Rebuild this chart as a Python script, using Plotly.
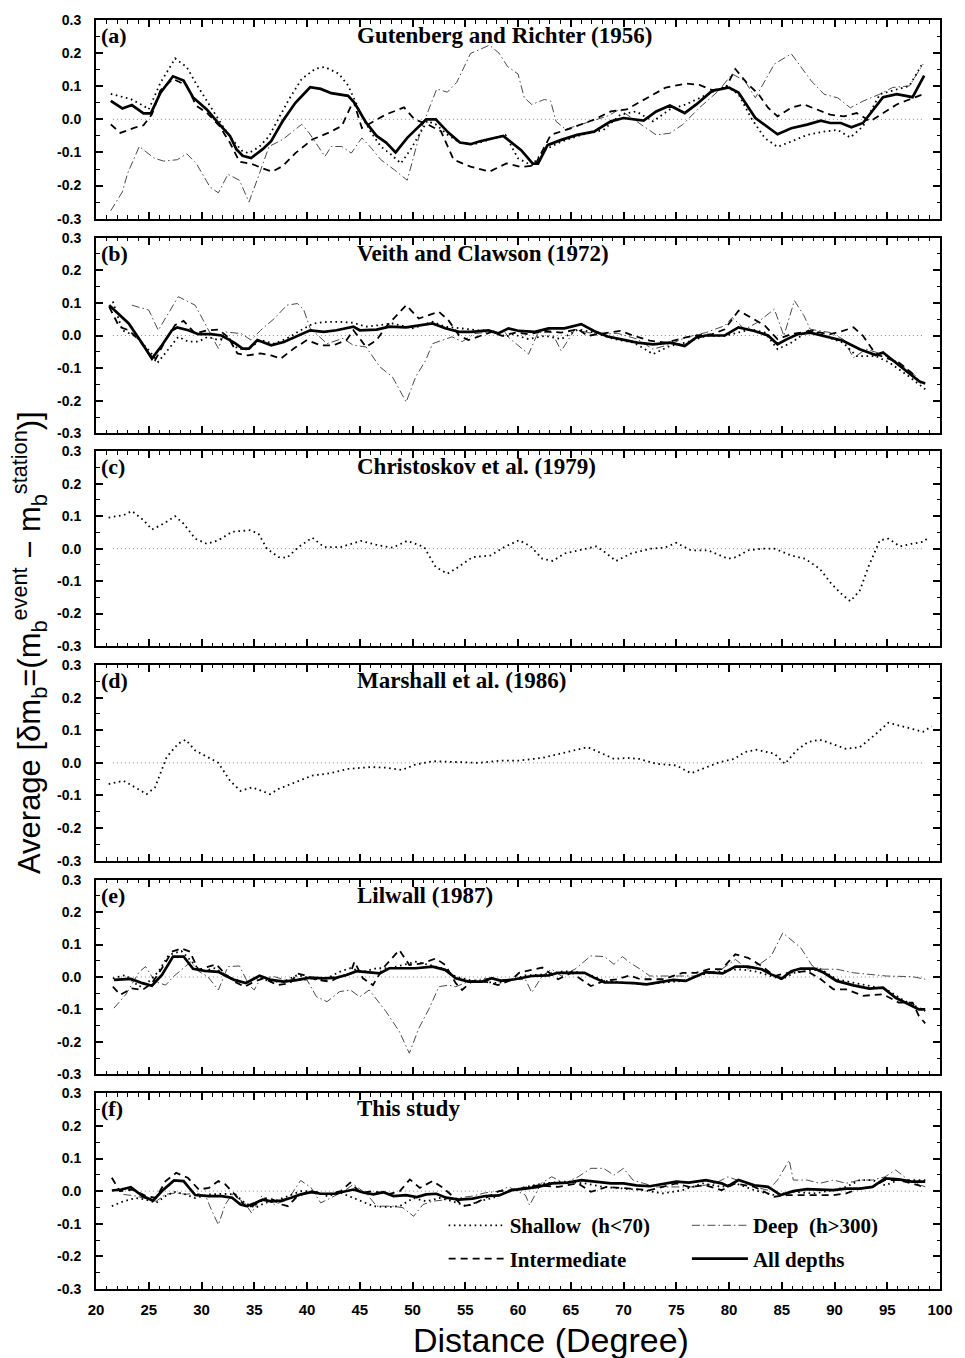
import plotly.graph_objects as go

# ---------------------------------------------------------------------------
# Average mb residual versus epicentral distance, (distance deg, residual)
# ---------------------------------------------------------------------------

# (a) Gutenberg and Richter (1956)
A_SHALLOW = [(21.4, 0.077), (23.3, 0.061), (24.5, 0.041), (25.0, 0.030), (26.1, 0.110),
             (27.5, 0.184), (28.6, 0.158), (29.5, 0.107), (30.8, 0.041), (32.0, -0.020),
             (32.9, -0.061), (33.9, -0.097), (34.5, -0.102), (35.5, -0.082), (36.4, -0.051),
             (37.3, 0.000), (38.3, 0.061), (39.5, 0.122), (40.8, 0.153), (41.7, 0.158),
             (43.0, 0.138), (43.9, 0.102), (44.5, 0.061), (45.2, 0.010), (46.1, -0.041),
             (47.0, -0.082), (48.0, -0.107), (48.9, -0.133), (49.8, -0.092), (50.8, -0.036),
             (51.4, -0.005), (52.2, -0.015), (53.3, -0.046), (54.5, -0.071), (55.8, -0.076),
             (57.3, -0.061), (58.8, -0.047), (60.0, -0.118), (61.3, -0.139), (62.5, -0.093),
             (64.1, -0.067), (66.0, -0.047), (68.1, -0.032), (69.7, 0.014), (71.2, 0.024),
             (72.8, -0.006), (74.4, 0.030), (75.9, 0.045), (77.2, 0.065), (78.4, 0.081),
             (79.7, 0.101), (80.9, 0.076), (82.1, 0.004), (83.4, -0.057), (84.6, -0.083),
             (85.9, -0.067), (87.4, -0.047), (89.0, -0.037), (90.3, -0.032), (91.5, -0.055),
             (92.7, -0.021), (94.3, 0.076), (95.9, 0.091), (97.1, 0.101), (98.4, 0.172)]
A_INTER = [(21.4, -0.015), (22.3, -0.041), (23.6, -0.026), (24.5, -0.018), (25.3, 0.015),
           (26.1, 0.087), (27.3, 0.122), (28.6, 0.102), (29.5, 0.041), (30.5, 0.020),
           (31.7, -0.020), (32.7, -0.071), (33.6, -0.128), (34.8, -0.135), (35.8, -0.148),
           (36.7, -0.158), (37.7, -0.141), (38.9, -0.102), (40.5, -0.061), (42.0, -0.041),
           (43.3, -0.020), (43.9, 0.020), (44.4, 0.056), (45.2, -0.026), (46.6, 0.000),
           (47.5, 0.015), (49.2, 0.036), (50.2, 0.000), (51.4, -0.015), (52.7, -0.036),
           (53.9, -0.122), (55.5, -0.143), (57.3, -0.158), (58.9, -0.133), (60.3, -0.144),
           (61.6, -0.139), (63.1, -0.047), (65.0, -0.027), (67.2, -0.001), (68.8, 0.024),
           (70.3, 0.030), (72.2, 0.065), (74.0, 0.096), (75.9, 0.108), (77.2, 0.104),
           (78.4, 0.088), (79.7, 0.096), (80.6, 0.152), (81.8, 0.106), (82.8, 0.076),
           (83.7, 0.035), (84.6, 0.009), (85.9, 0.035), (87.1, 0.045), (88.4, 0.030),
           (89.6, 0.014), (90.9, 0.009), (92.1, 0.019), (93.4, -0.006), (94.6, 0.019),
           (95.9, 0.045), (97.1, 0.060), (98.4, 0.076)]
A_DEEP = [(21.4, -0.276), (22.5, -0.219), (23.0, -0.163), (24.1, -0.082), (25.5, -0.117),
          (26.4, -0.126), (27.7, -0.122), (28.6, -0.104), (29.5, -0.133), (30.8, -0.204),
          (31.6, -0.222), (32.5, -0.166), (33.6, -0.184), (34.5, -0.250), (35.5, -0.163),
          (36.4, -0.082), (37.7, -0.061), (39.5, -0.015), (40.2, -0.041), (41.7, -0.112),
          (42.3, -0.082), (43.3, -0.082), (44.2, -0.102), (45.2, -0.056), (46.1, -0.087),
          (47.0, -0.122), (48.3, -0.153), (49.5, -0.184), (50.8, -0.031), (51.4, 0.020),
          (52.3, 0.092), (53.3, 0.082), (54.2, 0.112), (55.5, 0.199), (57.3, 0.224),
          (58.2, 0.200), (59.0, 0.160), (60.0, 0.137), (60.6, 0.065), (61.3, 0.045),
          (62.5, 0.060), (63.1, 0.055), (63.6, -0.006), (64.5, -0.030), (66.5, -0.010),
          (68.5, 0.010), (69.6, 0.030), (72.2, -0.027), (73.1, -0.047), (74.4, -0.042),
          (75.6, -0.016), (77.2, 0.035), (79.0, 0.086), (80.3, 0.137), (81.5, 0.116),
          (82.5, 0.065), (84.3, 0.167), (85.9, 0.198), (87.8, 0.116), (89.0, 0.076),
          (90.3, 0.065), (91.5, 0.035), (92.7, 0.055), (94.3, 0.076), (95.5, 0.096),
          (97.1, 0.101), (98.4, 0.167)]
A_ALL = [(21.4, 0.056), (22.5, 0.033), (23.4, 0.043), (24.5, 0.018), (25.2, 0.018),
         (26.1, 0.080), (27.3, 0.130), (28.3, 0.117), (29.2, 0.066), (30.5, 0.030),
         (31.7, -0.015), (32.7, -0.050), (33.3, -0.090), (33.9, -0.110), (34.7, -0.117),
         (35.8, -0.090), (36.6, -0.066), (37.7, -0.005), (38.9, 0.050), (40.3, 0.097),
         (41.3, 0.092), (42.3, 0.079), (43.9, 0.071), (44.5, 0.050), (45.6, -0.010),
         (46.6, -0.050), (47.5, -0.070), (48.4, -0.100), (49.5, -0.056), (50.5, -0.025),
         (51.3, 0.000), (52.2, 0.000), (53.4, -0.040), (54.5, -0.070), (55.5, -0.075),
         (56.4, -0.066), (57.3, -0.060), (58.6, -0.050), (60.3, -0.093), (61.4, -0.134),
         (61.9, -0.134), (62.8, -0.078), (64.1, -0.062), (65.6, -0.047), (67.2, -0.037),
         (68.8, -0.006), (70.0, 0.004), (71.9, -0.004), (73.1, 0.024), (74.4, 0.042),
         (75.8, 0.019), (76.9, 0.045), (78.4, 0.086), (80.0, 0.096), (80.9, 0.081),
         (82.5, 0.004), (84.6, -0.045), (85.9, -0.027), (87.4, -0.016), (88.7, -0.004),
         (89.6, -0.011), (90.6, -0.011), (91.6, -0.024), (92.7, -0.011), (94.6, 0.067),
         (95.9, 0.076), (97.4, 0.067), (98.5, 0.132)]

# (b) Veith and Clawson (1972)
B_SHALLOW = [(21.6, 0.104), (22.5, 0.016), (23.75, -0.002), (25.0, -0.045), (25.9, -0.081),
             (26.9, -0.040), (27.8, -0.004), (28.75, -0.019), (29.7, -0.019), (30.6, -0.004),
             (31.6, -0.014), (32.5, -0.004), (33.4, -0.040), (34.4, -0.043), (35.6, -0.014),
             (36.9, -0.025), (38.1, -0.009), (39.4, 0.016), (40.6, 0.037), (41.9, 0.042),
             (43.1, 0.042), (44.4, 0.039), (45.6, 0.027), (46.9, 0.032), (48.1, 0.037),
             (50.0, 0.022), (51.9, 0.042), (53.1, 0.027), (54.4, 0.022), (56.25, 0.016),
             (57.5, 0.016), (58.75, -0.004), (59.5, 0.004), (61.0, -0.011), (62.6, -0.001),
             (64.1, -0.011), (65.7, 0.019), (67.2, 0.009), (69.1, -0.011), (71.0, -0.022),
             (72.8, -0.057), (74.4, -0.032), (75.9, -0.022), (77.8, -0.001), (79.6, -0.001),
             (82.1, 0.019), (83.4, 0.009), (84.6, -0.042), (85.9, -0.022), (87.7, 0.019),
             (89.0, -0.001), (90.8, -0.022), (92.1, -0.063), (93.9, -0.063), (95.2, -0.083),
             (97.0, -0.124), (98.6, -0.165)]
B_INTER = [(21.25, 0.088), (22.2, 0.027), (23.1, 0.016), (24.1, -0.014), (25.0, -0.055),
           (25.6, -0.076), (26.6, -0.014), (27.5, 0.032), (28.3, 0.045), (29.4, 0.006),
           (30.6, 0.016), (31.6, 0.018), (32.5, -0.004), (33.4, -0.055), (34.4, -0.061),
           (35.6, -0.055), (36.6, -0.061), (37.5, -0.071), (38.75, -0.040), (40.0, -0.014),
           (41.25, -0.030), (42.5, -0.030), (43.75, -0.014), (44.4, 0.016), (45.6, -0.035),
           (46.6, -0.014), (47.5, 0.027), (49.4, 0.093), (50.6, 0.052), (52.5, 0.073),
           (53.4, 0.047), (54.4, 0.001), (55.3, -0.014), (56.25, -0.004), (57.5, 0.011),
           (58.5, -0.001), (59.8, 0.009), (61.0, 0.004), (62.6, 0.014), (64.1, 0.009),
           (65.7, 0.019), (66.6, -0.001), (68.5, 0.009), (69.7, 0.014), (71.0, -0.001),
           (72.5, -0.016), (74.0, -0.022), (75.9, -0.006), (77.2, 0.001), (78.4, 0.004),
           (79.6, 0.019), (80.9, 0.076), (82.1, 0.055), (83.4, 0.030), (84.6, -0.011),
           (85.9, 0.004), (87.7, 0.014), (89.6, 0.004), (90.8, 0.014), (91.8, 0.025),
           (92.7, -0.001), (93.9, -0.057), (96.1, -0.083), (97.3, -0.114), (98.3, -0.150)]
B_DEEP = [(23.4, 0.093), (25.0, 0.078), (25.9, 0.016), (26.9, 0.068), (27.8, 0.119),
          (29.4, 0.093), (30.6, 0.022), (31.6, -0.040), (32.2, 0.011), (33.75, 0.006),
          (34.7, -0.014), (35.6, 0.016), (36.9, 0.052), (38.1, 0.093), (39.1, 0.098),
          (39.7, 0.078), (40.3, 0.022), (41.9, -0.025), (43.4, -0.009), (44.4, -0.030),
          (45.6, -0.035), (46.9, -0.096), (48.1, -0.127), (49.4, -0.204), (50.3, -0.127),
          (51.25, -0.076), (51.9, -0.025), (53.75, -0.004), (54.7, -0.019), (55.9, 0.006),
          (57.5, 0.011), (58.75, 0.011), (59.1, -0.006), (61.0, -0.057), (61.9, 0.009),
          (63.2, 0.009), (64.1, -0.047), (65.4, 0.019), (66.6, 0.009), (68.1, 0.004),
          (69.4, 0.007), (71.3, -0.011), (72.8, -0.042), (74.4, -0.027), (75.9, -0.006),
          (77.8, 0.009), (79.6, 0.030), (80.3, 0.055), (81.5, 0.019), (82.7, 0.040),
          (84.3, 0.081), (85.2, -0.001), (86.2, 0.107), (87.1, 0.061), (87.7, 0.019),
          (89.6, 0.009), (90.8, -0.011), (91.8, -0.068), (93.0, -0.042), (94.5, -0.057),
          (96.1, -0.083), (97.7, -0.124)]
B_ALL = [(21.25, 0.093), (22.5, 0.057), (23.1, 0.037), (24.4, -0.025), (25.3, -0.071),
         (26.25, -0.030), (27.2, 0.016), (27.7, 0.025), (28.75, 0.016), (29.7, 0.004),
         (30.9, 0.004), (31.9, 0.000), (33.1, -0.022), (33.9, -0.040), (34.5, -0.040),
         (35.3, -0.014), (36.6, -0.030), (37.8, -0.020), (39.1, 0.000), (40.3, 0.016),
         (41.6, 0.011), (42.8, 0.016), (44.4, 0.027), (45.0, 0.016), (46.6, 0.018),
         (47.8, 0.027), (49.4, 0.025), (50.6, 0.030), (51.9, 0.037), (53.1, 0.022),
         (54.4, 0.011), (55.6, 0.011), (57.2, 0.016), (58.1, 0.006), (59.1, 0.022),
         (60.1, 0.014), (61.6, 0.011), (62.9, 0.022), (64.4, 0.022), (66.0, 0.035),
         (67.2, 0.014), (68.5, -0.003), (69.7, -0.011), (71.3, -0.022), (72.8, -0.027),
         (74.4, -0.022), (75.8, -0.032), (76.9, -0.006), (77.8, 0.000), (79.6, 0.000),
         (80.9, 0.025), (82.4, 0.014), (83.7, 0.000), (84.6, -0.027), (85.5, -0.011),
         (86.5, 0.004), (87.7, 0.009), (89.0, -0.001), (90.8, -0.016), (92.4, -0.042),
         (93.9, -0.060), (94.6, -0.052), (95.8, -0.083), (97.0, -0.114), (98.0, -0.140),
         (98.6, -0.147)]

# (c) Christoskov et al. (1979)
C_SHALLOW = [(21.2, 0.096), (22.6, 0.103), (23.4, 0.116), (24.5, 0.088), (25.3, 0.059),
             (26.4, 0.077), (27.5, 0.100), (28.3, 0.077), (29.4, 0.031), (30.5, 0.015),
             (31.6, 0.026), (32.9, 0.052), (34.6, 0.057), (35.4, 0.046), (36.2, 0.000),
             (37.3, -0.026), (38.1, -0.028), (39.2, 0.005), (40.5, 0.034), (41.6, 0.005),
             (43.2, 0.005), (45.1, 0.024), (46.8, 0.010), (48.1, 0.003), (49.5, 0.024),
             (51.1, 0.005), (52.2, -0.057), (53.3, -0.077), (54.1, -0.062), (55.7, -0.026),
             (57.4, -0.021), (58.7, 0.005), (60.1, 0.026), (61.2, 0.007), (62.3, -0.031),
             (63.3, -0.038), (64.4, -0.015), (66.1, -0.003), (67.4, 0.007), (68.2, -0.010),
             (69.3, -0.038), (70.7, -0.015), (72.6, 0.000), (73.9, 0.003), (75.0, 0.018),
             (76.4, -0.005), (78.0, -0.005), (79.9, -0.031), (80.7, -0.026), (81.8, -0.005),
             (83.2, 0.000), (84.3, 0.000), (85.9, -0.021), (87.2, -0.031), (88.6, -0.062),
             (89.7, -0.108), (90.8, -0.144), (91.5, -0.162), (92.4, -0.129), (93.2, -0.057),
             (94.3, 0.026), (95.1, 0.031), (96.2, 0.007), (97.3, 0.015), (98.4, 0.021),
             (98.9, 0.034)]

# (d) Marshall et al. (1986)
D_SHALLOW = [(21.2, -0.065), (22.6, -0.055), (23.7, -0.075), (24.8, -0.096), (25.6, -0.075),
             (26.7, 0.018), (27.8, 0.059), (28.5, 0.071), (29.4, 0.038), (30.5, 0.018),
             (31.6, 0.000), (32.7, -0.055), (33.7, -0.086), (34.8, -0.075), (36.5, -0.096),
             (37.3, -0.080), (38.9, -0.060), (40.5, -0.039), (42.2, -0.032), (43.8, -0.019),
             (46.0, -0.013), (47.6, -0.015), (49.0, -0.022), (50.3, -0.005), (51.9, 0.005),
             (54.1, 0.002), (56.3, 0.000), (58.5, 0.007), (60.1, 0.007), (62.3, 0.015),
             (63.9, 0.028), (65.5, 0.040), (66.6, 0.048), (68.0, 0.028), (69.1, 0.012),
             (70.4, 0.015), (71.5, 0.012), (73.1, -0.003), (75.0, -0.008), (76.4, -0.032),
             (77.5, -0.019), (79.1, 0.002), (80.5, 0.012), (81.5, 0.033), (82.6, 0.040),
             (84.3, 0.028), (85.3, -0.003), (86.4, 0.038), (87.5, 0.064), (88.6, 0.071),
             (89.7, 0.059), (91.1, 0.043), (92.4, 0.048), (93.8, 0.085), (95.1, 0.123),
             (96.5, 0.110), (97.6, 0.102), (98.4, 0.095), (99.2, 0.112)]

# (e) Lilwall (1987)
E_SHALLOW = [(21.6, -0.004), (22.8, 0.006), (24.1, -0.030), (25.0, -0.014), (25.9, 0.016),
             (26.9, 0.068), (28.1, 0.080), (29.1, 0.047), (30.0, 0.016), (31.25, 0.027),
             (32.8, -0.004), (34.1, -0.019), (35.3, -0.002), (36.6, -0.014), (37.8, -0.014),
             (39.1, 0.006), (40.3, -0.004), (41.6, -0.009), (43.1, 0.016), (44.1, 0.027),
             (45.3, 0.016), (46.6, 0.027), (47.8, 0.027), (49.1, 0.037), (50.3, 0.047),
             (51.6, 0.037), (52.8, 0.027), (54.1, 0.001), (55.3, -0.009), (56.6, -0.014),
             (58.1, -0.019), (59.7, -0.006), (60.7, 0.005), (62.6, 0.008), (64.4, 0.018),
             (66.3, 0.013), (68.2, -0.012), (70.0, -0.017), (71.9, -0.023), (73.8, -0.017),
             (75.6, -0.012), (77.5, 0.008), (79.3, 0.018), (80.9, 0.024), (82.4, 0.018),
             (84.0, 0.003), (85.0, -0.007), (86.2, 0.013), (87.4, 0.018), (88.7, 0.024),
             (90.2, -0.007), (91.8, -0.017), (93.3, -0.028), (94.9, -0.038), (96.4, -0.069),
             (98.6, -0.105)]
E_INTER = [(21.6, -0.030), (22.3, -0.055), (23.4, -0.035), (24.4, -0.040), (25.3, -0.019),
           (26.25, 0.027), (27.2, 0.078), (28.1, 0.088), (28.9, 0.078), (29.7, 0.022),
           (31.4, 0.039), (32.2, 0.011), (33.1, -0.014), (34.1, -0.030), (35.0, -0.014),
           (35.9, -0.004), (37.2, -0.025), (38.4, -0.019), (39.1, 0.011), (39.7, 0.006),
           (40.9, -0.009), (42.2, -0.014), (43.1, 0.001), (44.1, 0.011), (44.5, 0.047),
           (45.3, -0.004), (46.25, -0.025), (47.2, 0.027), (48.75, 0.083), (49.7, 0.037),
           (50.9, 0.042), (52.2, 0.057), (53.1, 0.037), (54.1, -0.019), (54.7, -0.040),
           (55.6, -0.014), (56.9, -0.014), (58.1, -0.025), (59.4, -0.009), (60.1, 0.013),
           (62.3, 0.029), (63.8, -0.007), (65.1, 0.013), (66.9, -0.028), (68.2, -0.012),
           (69.4, -0.007), (70.6, 0.005), (71.6, -0.007), (73.8, -0.007), (75.6, 0.013),
           (76.9, 0.013), (78.1, 0.024), (79.3, 0.024), (80.6, 0.070), (81.8, 0.059),
           (83.1, 0.034), (84.3, 0.003), (85.6, 0.013), (87.4, 0.018), (88.7, -0.007),
           (89.9, -0.038), (91.1, -0.038), (92.7, -0.058), (94.6, -0.053), (96.1, -0.079),
           (97.4, -0.079), (98.0, -0.120), (98.6, -0.143)]
E_DEEP = [(21.7, -0.096), (22.8, -0.055), (24.1, 0.016), (24.7, 0.032), (25.6, -0.014),
          (26.6, -0.025), (27.3, 0.000), (29.0, 0.047), (29.7, 0.018), (30.6, 0.001),
          (31.6, -0.040), (32.5, 0.032), (33.6, 0.034), (34.5, -0.025), (35.0, -0.040),
          (35.6, -0.004), (36.9, 0.001), (38.4, -0.014), (40.0, -0.009), (40.9, -0.061),
          (41.9, -0.076), (43.1, -0.045), (44.1, -0.040), (45.0, -0.061), (45.9, -0.040),
          (47.5, -0.107), (48.75, -0.168), (49.7, -0.235), (50.6, -0.158), (51.6, -0.096),
          (52.5, -0.030), (53.4, -0.025), (54.1, -0.030), (55.3, -0.014), (56.9, -0.004),
          (58.4, -0.009), (60.7, -0.007), (61.3, -0.048), (62.3, 0.003), (63.2, 0.024),
          (64.1, 0.003), (65.4, 0.024), (66.9, 0.065), (68.2, 0.063), (69.1, 0.039),
          (69.9, 0.063), (70.6, 0.044), (71.6, 0.024), (72.5, 0.003), (75.0, 0.003),
          (76.9, 0.003), (79.3, 0.024), (80.6, 0.054), (81.8, 0.024), (83.1, 0.044),
          (84.0, 0.065), (85.1, 0.136), (86.8, 0.090), (87.9, 0.034), (88.7, 0.024),
          (90.2, 0.024), (91.8, 0.013), (93.3, 0.008), (94.9, 0.003), (97.4, 0.001),
          (98.6, -0.007)]
E_ALL = [(21.7, -0.009), (23.3, -0.006), (24.4, -0.019), (25.3, -0.027), (26.25, 0.006),
         (27.3, 0.063), (28.3, 0.063), (29.2, 0.025), (30.3, 0.019), (31.6, 0.016),
         (32.3, 0.004), (33.1, -0.009), (34.2, -0.019), (35.5, 0.004), (36.6, -0.009),
         (37.8, -0.014), (39.1, -0.009), (40.3, -0.002), (41.6, -0.004), (42.8, -0.002),
         (43.75, 0.006), (44.7, 0.018), (45.9, 0.014), (46.9, 0.011), (47.8, 0.027),
         (49.1, 0.027), (50.3, 0.027), (51.9, 0.032), (53.1, 0.022), (54.1, -0.004),
         (55.3, -0.014), (56.6, -0.014), (57.5, -0.004), (58.4, -0.012), (59.7, -0.007),
         (61.3, 0.003), (62.9, 0.005), (63.8, 0.013), (65.1, 0.013), (66.3, 0.013),
         (67.2, -0.002), (68.2, -0.017), (69.4, -0.017), (71.0, -0.019), (72.2, -0.023),
         (73.4, -0.017), (74.7, -0.009), (75.9, -0.012), (76.9, 0.003), (77.8, 0.015),
         (79.4, 0.011), (80.6, 0.032), (81.8, 0.032), (83.1, 0.024), (84.0, 0.008),
         (85.0, -0.005), (85.9, 0.018), (86.8, 0.026), (88.1, 0.026), (89.0, 0.013),
         (90.2, -0.012), (91.8, -0.026), (93.3, -0.036), (94.6, -0.033), (95.8, -0.064),
         (97.0, -0.084), (98.0, -0.100), (98.6, -0.100)]

# (f) This study
F_SHALLOW = [(21.5, -0.046), (22.6, -0.031), (23.8, -0.021), (24.75, -0.026), (25.7, -0.036),
             (26.6, -0.015), (27.4, -0.002), (28.5, -0.010), (29.4, -0.021), (30.7, -0.010),
             (31.9, -0.008), (33.2, -0.010), (34.1, -0.036), (35.1, -0.051), (36.0, -0.036),
             (36.9, -0.031), (38.2, -0.015), (39.4, 0.000), (40.7, 0.000), (41.9, -0.015),
             (43.2, -0.005), (44.4, -0.021), (45.7, -0.036), (46.3, -0.046), (47.6, -0.049),
             (48.8, -0.046), (50.1, -0.021), (51.3, -0.031), (52.6, -0.021), (53.8, -0.031),
             (55.1, -0.046), (56.3, -0.031), (57.6, -0.021), (59.1, 0.000), (60.7, 0.013),
             (62.5, 0.024), (64.4, 0.029), (66.3, 0.024), (68.1, 0.013), (70.0, 0.008),
             (71.9, 0.003), (73.7, -0.007), (75.6, 0.003), (77.5, 0.024), (79.3, 0.013),
             (80.6, 0.024), (82.4, 0.003), (84.3, -0.012), (86.1, -0.002), (88.0, -0.007),
             (89.9, 0.003), (91.1, 0.013), (92.4, 0.034), (93.6, 0.034), (94.8, 0.018),
             (96.1, 0.034), (98.0, 0.034), (98.6, 0.034)]
F_INTER = [(21.5, 0.041), (22.25, 0.000), (23.5, 0.005), (24.75, -0.015), (25.7, -0.021),
           (26.6, 0.031), (27.6, 0.056), (28.7, 0.041), (29.75, 0.005), (30.7, 0.010),
           (31.6, 0.031), (32.25, 0.021), (33.3, -0.015), (34.3, -0.051), (35.1, -0.041),
           (36.3, -0.018), (37.6, -0.041), (38.2, -0.046), (39.1, -0.015), (40.4, 0.000),
           (41.9, -0.010), (43.2, 0.000), (44.1, 0.026), (45.1, -0.005), (46.3, 0.000),
           (47.6, -0.010), (48.8, 0.000), (49.75, 0.036), (50.7, 0.010), (51.9, 0.031),
           (52.9, 0.010), (53.8, -0.015), (54.75, -0.046), (55.7, -0.041), (56.9, -0.021),
           (58.2, 0.000), (59.4, 0.003), (61.9, 0.018), (63.8, 0.013), (65.7, 0.024),
           (66.9, -0.002), (68.4, 0.013), (70.6, 0.008), (72.5, 0.003), (73.7, 0.013),
           (75.0, 0.024), (76.2, 0.013), (77.8, 0.018), (79.3, 0.003), (80.6, 0.024),
           (82.4, 0.013), (84.3, -0.017), (85.5, -0.012), (87.4, -0.012), (88.6, -0.012),
           (89.9, -0.012), (91.1, -0.007), (92.4, 0.008), (93.6, 0.013), (94.8, 0.034),
           (96.1, 0.034), (98.0, 0.018), (98.6, 0.008)]
F_DEEP = [(22.6, -0.010), (23.8, -0.015), (25.7, -0.031), (26.6, -0.010), (27.6, -0.005),
          (28.5, -0.010), (29.4, -0.005), (30.4, -0.015), (31.0, -0.062), (31.6, -0.103),
          (32.25, -0.041), (32.9, -0.010), (34.1, -0.036), (34.75, -0.067), (35.7, -0.015),
          (36.9, -0.041), (38.2, -0.026), (39.4, 0.033), (40.4, 0.010), (41.3, -0.036),
          (42.6, -0.015), (43.5, 0.000), (44.4, 0.021), (45.7, -0.010), (46.6, -0.046),
          (48.2, -0.046), (49.1, -0.051), (50.1, -0.077), (51.0, -0.041), (51.9, -0.031),
          (53.2, -0.026), (54.4, -0.021), (55.7, -0.015), (56.9, -0.005), (58.2, 0.000),
          (59.1, 0.013), (60.7, -0.012), (61.1, -0.043), (62.2, 0.024), (63.2, 0.044),
          (64.4, 0.024), (65.7, 0.044), (66.9, 0.070), (68.1, 0.070), (69.1, 0.049),
          (70.0, 0.070), (70.9, 0.034), (71.9, 0.024), (73.1, 0.013), (75.0, 0.013),
          (76.8, 0.013), (78.7, 0.024), (79.9, 0.044), (81.2, 0.029), (82.4, 0.013),
          (83.7, 0.003), (84.6, 0.034), (85.7, 0.095), (86.1, 0.034), (87.4, 0.034),
          (88.6, 0.024), (89.9, 0.034), (91.1, 0.024), (92.4, 0.034), (93.6, 0.034),
          (94.8, 0.044), (95.8, 0.065), (97.0, 0.034), (98.6, 0.013)]
F_ALL = [(21.5, 0.002), (22.4, 0.005), (23.3, 0.012), (24.4, -0.015), (25.4, -0.029),
         (26.3, 0.002), (27.4, 0.033), (28.3, 0.031), (29.4, -0.012), (30.7, -0.015),
         (31.9, -0.015), (32.9, -0.020), (33.7, -0.041), (34.3, -0.046), (35.1, -0.036),
         (35.8, -0.026), (36.6, -0.031), (37.6, -0.029), (38.5, -0.020), (39.4, -0.010),
         (40.4, -0.003), (41.3, -0.008), (42.6, -0.008), (43.5, -0.002), (44.4, 0.005),
         (45.4, -0.005), (46.3, -0.010), (47.25, -0.003), (48.2, -0.015), (49.4, -0.012),
         (50.4, -0.018), (51.3, -0.010), (52.25, -0.008), (53.2, -0.020), (54.4, -0.026),
         (55.7, -0.023), (56.9, -0.015), (58.2, -0.013), (59.4, 0.003), (60.7, 0.008),
         (61.9, 0.013), (63.2, 0.024), (64.7, 0.026), (66.0, 0.034), (67.5, 0.029),
         (68.8, 0.024), (70.0, 0.024), (71.2, 0.018), (72.5, 0.015), (73.7, 0.022),
         (75.0, 0.029), (76.2, 0.026), (77.8, 0.034), (79.3, 0.024), (79.9, 0.015),
         (80.9, 0.034), (82.4, 0.018), (83.7, 0.013), (84.9, -0.012), (86.1, 0.000),
         (87.4, 0.006), (88.6, 0.005), (89.9, 0.003), (91.1, 0.008), (92.4, 0.008),
         (93.6, 0.013), (94.8, 0.039), (96.1, 0.036), (97.3, 0.029), (98.6, 0.029)]

# axis ticks and labels
X_TICKS = [20, 25, 30, 35, 40, 45, 50, 55, 60, 65, 70, 75, 80, 85, 90, 95, 100]
Y_TICKS = [-0.3, -0.2, -0.1, 0.0, 0.1, 0.2, 0.3]
Y_LABELS = ["-0.3", "-0.2", "-0.1", "0.0", "0.1", "0.2", "0.3"]

PANELS = [
    ("(a)", "Gutenberg and Richter (1956)",
     {"deep": A_DEEP, "shallow": A_SHALLOW, "inter": A_INTER, "all": A_ALL}),
    ("(b)", "Veith and Clawson (1972)",
     {"deep": B_DEEP, "shallow": B_SHALLOW, "inter": B_INTER, "all": B_ALL}),
    ("(c)", "Christoskov et al. (1979)", {"shallow": C_SHALLOW}),
    ("(d)", "Marshall et al. (1986)", {"shallow": D_SHALLOW}),
    ("(e)", "Lilwall (1987)",
     {"deep": E_DEEP, "shallow": E_SHALLOW, "inter": E_INTER, "all": E_ALL}),
    ("(f)", "This study",
     {"deep": F_DEEP, "shallow": F_SHALLOW, "inter": F_INTER, "all": F_ALL}),
]

SERIES_NAMES = {
    "shallow": "Shallow\u00a0 (h&lt;70)",
    "inter": "Intermediate",
    "deep": "Deep\u00a0 (h&gt;300)",
    "all": "All depths",
}
LINE_STYLES = {
    "shallow": dict(color="black", width=1.8, dash="1.6px,3.6px"),
    "inter": dict(color="black", width=1.8, dash="7px,5px"),
    "deep": dict(color="#4a4a4a", width=1.0, dash="8px,3px,1.5px,3px"),
    "all": dict(color="black", width=2.7),
}
LEGEND_OF = {"shallow": "legend", "inter": "legend", "deep": "legend2", "all": "legend2"}

# page geometry (pixels)
W, H = 965, 1358
M_L, M_R, M_T, M_B = 96, 12, 18, 69
PANEL_PX = [(18, 217), (236, 432), (450, 645), (664, 860), (879, 1074), (1093, 1289)]
PLOT_H = H - M_T - M_B
PLOT_W = W - M_L - M_R


def frac_y(py):
    return (H - M_B - py) / PLOT_H


def frac_x(px):
    return (px - M_L) / PLOT_W


SANS = "Liberation Sans, Arial, Helvetica, sans-serif"
SERIF = "Liberation Serif, Times New Roman, Times, serif"

fig = go.Figure()
layout = {}
n = len(PANELS)
for i, (tag, title, series) in enumerate(PANELS):
    k = "" if i == 0 else str(i + 1)
    xa, ya = "x" + k, "y" + k
    top_px, bot_px = PANEL_PX[i]
    last = i == n - 1

    # dotted reference at zero
    fig.add_shape(type="line", xref=xa + " domain", yref=ya, x0=0.02, x1=0.98, y0=0, y1=0,
                  line=dict(color="#8a8a8a", width=1, dash="1px,3px"), layer="below")

    for key in ["deep", "shallow", "inter", "all"]:
        if key not in series:
            continue
        pts = series[key]
        fig.add_trace(go.Scatter(
            x=[p[0] for p in pts], y=[p[1] for p in pts],
            mode="lines", line=LINE_STYLES[key], name=SERIES_NAMES[key],
            xaxis=xa, yaxis=ya, showlegend=last, legend=LEGEND_OF[key],
            legendgroup=key, hoverinfo="skip"))

    layout["xaxis" + k] = dict(
        domain=[0, 1], anchor=ya, range=[20, 100], showgrid=False, zeroline=False,
        showline=True, linecolor="black", linewidth=2, mirror="ticks",
        ticks="inside", ticklen=7, tickwidth=1.5, tickcolor="black",
        tickvals=X_TICKS, showticklabels=last, ticklabelstandoff=6,
        tickfont=dict(family=SANS, size=15, color="black", weight="bold"),
        minor=dict(tick0=20, dtick=1, ticks="inside", ticklen=3.5, tickwidth=1.1,
                   tickcolor="black"),
        matches=None if i == 0 else "x")
    layout["yaxis" + k] = dict(
        domain=[frac_y(bot_px), frac_y(top_px)], anchor=xa, range=[-0.3, 0.3],
        showgrid=False, zeroline=False, showline=True, linecolor="black", linewidth=2,
        mirror="ticks", ticks="inside", ticklen=7, tickwidth=1.5, tickcolor="black",
        tickvals=Y_TICKS, ticktext=Y_LABELS, ticklabelstandoff=10,
        tickfont=dict(family=SANS, size=14, color="black", weight="bold"),
        minor=dict(tick0=0, dtick=0.05, ticks="inside", ticklen=3.5, tickwidth=1.1,
                   tickcolor="black"))

    fig.add_annotation(text=tag, xref=xa + " domain", yref=ya + " domain", x=0.003, y=0.995,
                       xanchor="left", yanchor="top", showarrow=False,
                       font=dict(family=SERIF, size=22, color="black", weight="bold"))
    fig.add_annotation(text=title, xref=xa + " domain", yref=ya + " domain", x=0.307, y=0.995,
                       xanchor="left", yanchor="top", showarrow=False,
                       font=dict(family=SERIF, size=23, color="black", weight="bold"))

# axis titles
fig.add_annotation(
    text="Average [δm<sub>b</sub>=(m<sub>b</sub><sup>event</sup> − m<sub>b</sub><sup>station</sup>)]",
    xref="paper", yref="paper", x=frac_x(28), y=frac_y(642), textangle=-90,
    xanchor="center", yanchor="middle", showarrow=False,
    font=dict(family=SANS, size=31, color="black"))
fig.add_annotation(
    text="Distance (Degree)", xref="paper", yref="paper", x=frac_x(558), y=frac_y(1340),
    xanchor="center", yanchor="middle", showarrow=False,
    font=dict(family=SANS, size=34, color="black"))

legend_common = dict(
    bgcolor="rgba(0,0,0,0)", borderwidth=0, orientation="v", xanchor="left", yanchor="top",
    itemwidth=56, tracegroupgap=3, itemclick=False, itemdoubleclick=False,
    font=dict(family=SERIF, size=21, color="black", weight="bold"))

fig.update_layout(
    width=W, height=H, autosize=False,
    margin=dict(l=M_L, r=M_R, t=M_T, b=M_B, pad=0),
    paper_bgcolor="white", plot_bgcolor="white",
    legend=dict(x=frac_x(449), y=frac_y(1205), **legend_common),
    legend2=dict(x=frac_x(696), y=frac_y(1205), **legend_common),
    **layout)

fig.write_html("out.html")
